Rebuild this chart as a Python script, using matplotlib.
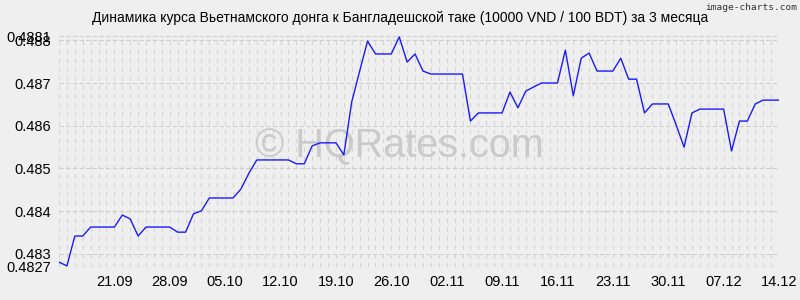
import numpy as np
import matplotlib.pyplot as plt

# VND/BDT daily rate, 14.09 .. 14.12
rates = [0.48281, 0.48272, 0.48342, 0.48342, 0.48363, 0.48363, 0.48363, 0.48363,
         0.48391, 0.48382, 0.48342, 0.48363, 0.48363, 0.48363, 0.48363, 0.48351,
         0.48351, 0.48394, 0.48401, 0.48431, 0.48431, 0.48431, 0.48431, 0.48452,
         0.48489, 0.48520, 0.48520, 0.48520, 0.48520, 0.48520, 0.48511, 0.48511,
         0.48553, 0.48560, 0.48560, 0.48560, 0.48532, 0.48656, 0.48728, 0.48798,
         0.48768, 0.48768, 0.48768, 0.48808, 0.48749, 0.48768, 0.48728, 0.48721,
         0.48721, 0.48721, 0.48721, 0.48721, 0.48611, 0.48630, 0.48630, 0.48630,
         0.48630, 0.48679, 0.48642, 0.48681, 0.48691, 0.48700, 0.48700, 0.48700,
         0.48777, 0.48670, 0.48758, 0.48770, 0.48728, 0.48728, 0.48728, 0.48758,
         0.48709, 0.48709, 0.48630, 0.48651, 0.48651, 0.48651, 0.48602, 0.48550,
         0.48630, 0.48639, 0.48639, 0.48639, 0.48639, 0.48541, 0.48611, 0.48611,
         0.48651, 0.48660, 0.48660, 0.48660]
x_labels = ['21.09', '28.09', '05.10', '12.10', '19.10', '26.10',
            '02.11', '09.11', '16.11', '23.11', '30.11', '07.12', '14.12']
x_label_days = [7, 14, 21, 28, 35, 42, 49, 56, 63, 70, 77, 84, 91]
y_ticks = [0.4827, 0.483, 0.484, 0.485, 0.486, 0.487, 0.488, 0.4881]
y_labels = ['0.4827', '0.483', '0.484', '0.485', '0.486', '0.487', '0.488', '0.4881']

plt.rcParams['font.family'] = ['Liberation Sans', 'DejaVu Sans']
bg = '#efefef'

fig = plt.figure(figsize=(8, 3), dpi=100, facecolor=bg)
ax = fig.add_axes([0.07375, 0.1107, 0.9, 0.7693], facecolor=bg)

days = np.arange(len(rates))
ax.set_xlim(0, len(rates) - 1)
ax.set_ylim(0.4827, 0.4881)

# grid
for d in days:
    ax.axvline(d, color='#d4d4d4', lw=0.8, ls=(0, (4, 4)), zorder=0)
for yt in y_ticks:
    ax.axhline(yt, color='#cdcdcd', lw=0.8, ls=(0, (4, 2)), zorder=0)

ax.text(0.499, 0.513, '© HQRates.com', transform=fig.transFigure, ha='center', va='center',
        fontsize=28.5, color='#cacaca', zorder=1)
ax.plot(days, rates, color='#1a1aff', lw=1.0, zorder=3)

ax.set_xticks(x_label_days)
ax.set_xticklabels(x_labels, fontsize=10.5)
ax.set_yticks(y_ticks)
ax.set_yticklabels(y_labels, fontsize=10.5)
ax.tick_params(length=0, pad=6)
for s in ax.spines.values():
    s.set_visible(False)

fig.text(0.5, 0.94, 'Динамика курса Вьетнамского донга к Бангладешской таке (10000 VND / 100 BDT) за 3 месяца',
         ha='center', va='center', fontsize=10)
fig.text(0.997, 0.975, 'image-charts.com', ha='right', va='center', fontsize=6.8,
         family='DejaVu Sans Mono', color='#333333')

fig.savefig('out.png', dpi=100, facecolor=bg)
